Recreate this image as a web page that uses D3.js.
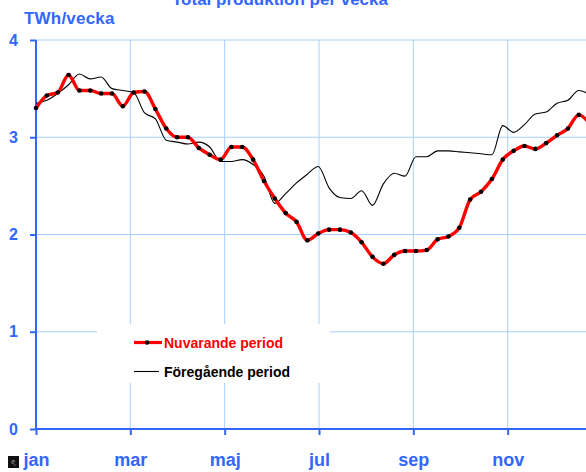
<!DOCTYPE html>
<html>
<head>
<meta charset="utf-8">
<script src="https://cdn.jsdelivr.net/npm/d3@7"></script>
<style>
  html, body { margin: 0; padding: 0; background: #fff; }
  svg { display: block; font-family: "Liberation Sans", Arial, sans-serif; }
</style>
</head>
<body>
<svg id="chart" width="586" height="472"></svg>
<script>
const title = "Total produktion per vecka";
const yTitle = "TWh/vecka";
const monthLabels = ["jan", "mar", "maj", "jul", "sep", "nov"];
const monthTickPos = [0, 2, 4, 6, 8, 10];
const yTicks = [0, 1, 2, 3, 4];
const seriesNames = ["Nuvarande period", "Föregående period"];

// Weekly values (TWh/vecka), week 1..52
const current = [3.30, 3.43, 3.46, 3.64, 3.48, 3.48, 3.45, 3.45, 3.32, 3.46,
                 3.47, 3.29, 3.09, 3.00, 3.00, 2.89, 2.82, 2.77, 2.90, 2.90,
                 2.77, 2.55, 2.37, 2.22, 2.13, 1.94, 2.01, 2.05, 2.05, 2.02,
                 1.92, 1.77, 1.70, 1.79, 1.83, 1.83, 1.84, 1.95, 1.98, 2.07,
                 2.36, 2.44, 2.57, 2.77, 2.86, 2.91, 2.88, 2.94, 3.02, 3.09,
                 3.23, 3.14];
const previous = [3.35, 3.38, 3.45, 3.54, 3.65, 3.60, 3.62, 3.50, 3.48, 3.46,
                  3.25, 3.19, 2.97, 2.95, 2.93, 2.95, 2.90, 2.75, 2.75, 2.77,
                  2.72, 2.60, 2.32, 2.42, 2.53, 2.62, 2.70, 2.48, 2.38, 2.37,
                  2.45, 2.30, 2.52, 2.63, 2.60, 2.80, 2.80, 2.86, 2.86, 2.85,
                  2.84, 2.83, 2.82, 3.12, 3.05, 3.13, 3.24, 3.26, 3.35, 3.38,
                  3.48, 3.44];

const blue = "#3366ff";
const gridBlue = "#a8d0ff";

const svg = d3.select("#chart");
const x = d3.scaleLinear().domain([0, 12]).range([36, 602]);
const y = d3.scaleLinear().domain([0, 4]).range([429, 40]);
const weekToMonth = i => i * 7 * 12 / 365;

// gridlines
svg.append("g").selectAll("line.h").data(yTicks.filter(d => d > 0)).join("line")
  .attr("x1", x(0)).attr("x2", 586)
  .attr("y1", d => y(d)).attr("y2", d => y(d))
  .attr("stroke", gridBlue).attr("stroke-width", 1);
svg.append("g").selectAll("line.v").data(monthTickPos.filter(d => d > 0)).join("line")
  .attr("x1", d => x(d)).attr("x2", d => x(d))
  .attr("y1", y(4)).attr("y2", y(0))
  .attr("stroke", gridBlue).attr("stroke-width", 1);

// legend background (covers gridlines)
svg.append("rect").attr("x", 97).attr("y", 324).attr("width", 233).attr("height", 59).attr("fill", "#fff");

// axes
const yAxis = d3.axisLeft(y).tickValues(yTicks).tickSize(6).tickFormat(d3.format("d"));
const gy = svg.append("g").attr("transform", `translate(${x(0)},0)`).call(yAxis);
gy.select(".domain").attr("stroke", blue).attr("stroke-width", 2).attr("d", `M0,${y(4)}V${y(0)}`);
gy.selectAll(".tick line").attr("stroke", blue).attr("stroke-width", 2);
gy.selectAll(".tick text").attr("x", -18).attr("fill", blue)
  .style("font-size", "16px").style("font-weight", "bold").attr("font-family", "Liberation Sans, Arial, sans-serif");

const xAxis = d3.axisBottom(x).tickValues(monthTickPos).tickSize(6).tickFormat((d, i) => monthLabels[i]);
const gx = svg.append("g").attr("transform", `translate(0,${y(0)})`).call(xAxis);
gx.select(".domain").attr("stroke", blue).attr("stroke-width", 2).attr("d", `M${x(0)},0H586`);
gx.selectAll(".tick line").attr("stroke", blue).attr("stroke-width", 2);
gx.selectAll(".tick text").attr("y", 24).attr("fill", blue)
  .style("font-size", "18px").style("font-weight", "bold").attr("font-family", "Liberation Sans, Arial, sans-serif");

// lines
const line = d3.line().x((d, i) => x(weekToMonth(i))).y(d => y(d)).curve(d3.curveMonotoneX);
svg.append("path").datum(previous).attr("d", line)
  .attr("fill", "none").attr("stroke", "#000").attr("stroke-width", 1.1);
svg.append("path").datum(current).attr("d", line)
  .attr("fill", "none").attr("stroke", "#ff0000").attr("stroke-width", 3.4).attr("stroke-linejoin", "round");
svg.append("g").selectAll("circle").data(current).join("circle")
  .attr("cx", (d, i) => x(weekToMonth(i))).attr("cy", d => y(d)).attr("r", 2.3).attr("fill", "#000");

// titles
svg.append("text").attr("x", 280).attr("y", 5).attr("text-anchor", "middle")
  .attr("fill", blue).style("font-size", "17px").style("font-weight", "bold").text(title);
svg.append("text").attr("x", 24).attr("y", 24)
  .attr("fill", blue).style("font-size", "17px").style("font-weight", "bold")
  .style("letter-spacing", "0.2px").text(yTitle);

// legend
const lg = svg.append("g");
lg.append("line").attr("x1", 134).attr("x2", 162).attr("y1", 342.5).attr("y2", 342.5)
  .attr("stroke", "#ff0000").attr("stroke-width", 3.2);
lg.append("circle").attr("cx", 147).attr("cy", 342.5).attr("r", 2.3).attr("fill", "#000");
lg.append("text").attr("x", 164).attr("y", 348).attr("fill", "#ff0000")
  .style("font-size", "14px").style("font-weight", "bold").text(seriesNames[0]);
lg.append("line").attr("x1", 134).attr("x2", 159).attr("y1", 371.5).attr("y2", 371.5)
  .attr("stroke", "#000").attr("stroke-width", 1.1);
lg.append("text").attr("x", 164).attr("y", 377).attr("fill", "#000")
  .style("font-size", "14px").style("font-weight", "bold").text(seriesNames[1]);

// small broken-image icon bottom-left
svg.append("rect").attr("x", 8).attr("y", 456).attr("width", 11).attr("height", 12).attr("fill", "#111");
svg.append("text").attr("x", 13.5).attr("y", 466).attr("text-anchor", "middle").attr("fill", "#bbb")
  .style("font-size", "9px").text("ৎ");
</script>
</body>
</html>
